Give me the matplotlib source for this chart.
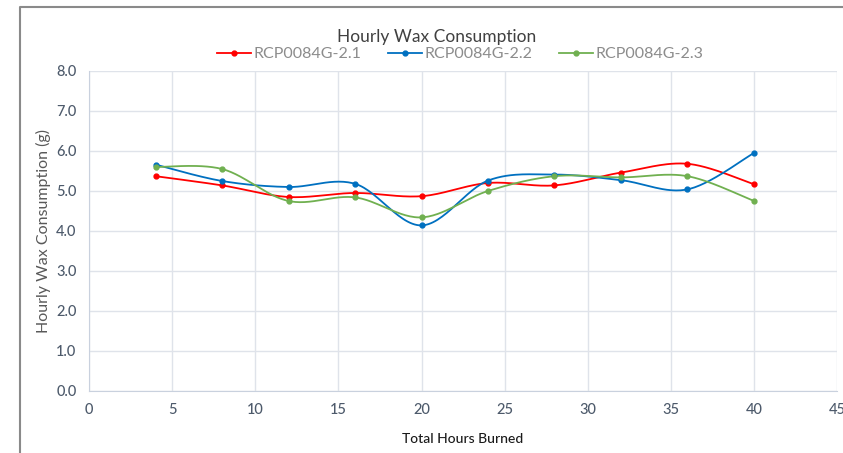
import matplotlib.pyplot as plt
import numpy as np
from matplotlib.lines import Line2D

# Dados
horas = [4, 8, 12, 16, 20, 24, 28, 32, 36, 40]
serie_21 = [5.37, 5.14, 4.85, 4.95, 4.87, 5.20, 5.14, 5.46, 5.68, 5.17]
serie_22 = [5.66, 5.25, 5.10, 5.18, 4.14, 5.26, 5.41, 5.27, 5.04, 5.95]
serie_23 = [5.60, 5.55, 4.75, 4.84, 4.34, 5.00, 5.37, 5.34, 5.37, 4.75]
nomes = ["RCP0084G-2.1", "RCP0084G-2.2", "RCP0084G-2.3"]
cores = ["#ff0000", "#0070c0", "#70b050"]

FONTE = "Lato"


def suavizar(x, y, n=30):
    # curva suave tipo Excel (Catmull-Rom em Bezier)
    x = np.asarray(x, float)
    y = np.asarray(y, float)
    px = np.concatenate([[x[0]], x, [x[-1]]])
    py = np.concatenate([[y[0]], y, [y[-1]]])
    xs, ys = [], []
    t = np.linspace(0, 1, n)
    for i in range(1, len(px) - 2):
        p0 = np.array([px[i], py[i]])
        p3 = np.array([px[i + 1], py[i + 1]])
        p1 = p0 + (np.array([px[i + 1], py[i + 1]]) - np.array([px[i - 1], py[i - 1]])) / 6
        p2 = p3 - (np.array([px[i + 2], py[i + 2]]) - np.array([px[i], py[i]])) / 6
        b = ((1 - t) ** 3)[:, None] * p0 + (3 * (1 - t) ** 2 * t)[:, None] * p1 \
            + (3 * (1 - t) * t ** 2)[:, None] * p2 + (t ** 3)[:, None] * p3
        xs.extend(b[:, 0])
        ys.extend(b[:, 1])
    return xs, ys


fig = plt.figure(figsize=(8.43, 4.53), dpi=100)
ax = fig.add_axes([0.1056, 0.1369, 0.8874, 0.7064])

for serie, nome, cor in zip([serie_21, serie_22, serie_23], nomes, cores):
    xs, ys = suavizar(horas, serie)
    ax.plot(xs, ys, color=cor, lw=1.3, zorder=3)
    ax.plot(horas, serie, 'o', color=cor, ms=3.5, zorder=4)

ax.set_xlim(0, 45)
ax.set_ylim(0, 8)
ax.set_xticks(range(0, 46, 5))
ax.set_yticks(np.arange(0, 8.1, 1))
ax.set_yticklabels([f"{v:.1f}" for v in np.arange(0, 8.1, 1)])
ax.grid(True, color="#dfe3ea", lw=1)
ax.set_axisbelow(True)
for s in ["top", "right"]:
    ax.spines[s].set_visible(False)
for s in ["left", "bottom"]:
    ax.spines[s].set_color("#c9d1de")
ax.tick_params(length=0, colors="#4d5a6b", pad=9)
for lab in ax.get_xticklabels() + ax.get_yticklabels():
    lab.set_family(FONTE)
    lab.set_fontsize(10.5)
    lab.set_fontweight("medium")

ax.set_ylabel("Hourly Wax Consumption (g)", fontsize=11.5, color="#595959",
              family=FONTE, labelpad=4)
ax.set_xlabel("Total Hours Burned", fontsize=10, color="#1a1a1a",
              family=FONTE, fontweight="medium", labelpad=11)

fig.text(0.518, 0.918, "Hourly Wax Consumption", ha="center", va="center",
         fontsize=12.5, color="#404040", family=FONTE)

handles = [Line2D([0], [0], color=c, lw=1.3, marker='o', ms=3.5) for c in cores]
fig.legend(handles, nomes, loc="center", bbox_to_anchor=(0.546, 0.88), ncol=3,
           frameon=False, prop={"family": FONTE, "size": 11.5},
           labelcolor="#8c8c8c", handlelength=2.1, handletextpad=0.15,
           columnspacing=1.7)

# moldura da captura
fig.add_artist(Line2D([20 / 843, 20 / 843, 1], [0, 1 - 7 / 453, 1 - 7 / 453],
                      transform=fig.transFigure, color="#8a8a8a", lw=1.5))

fig.savefig("out.png", dpi=100)
